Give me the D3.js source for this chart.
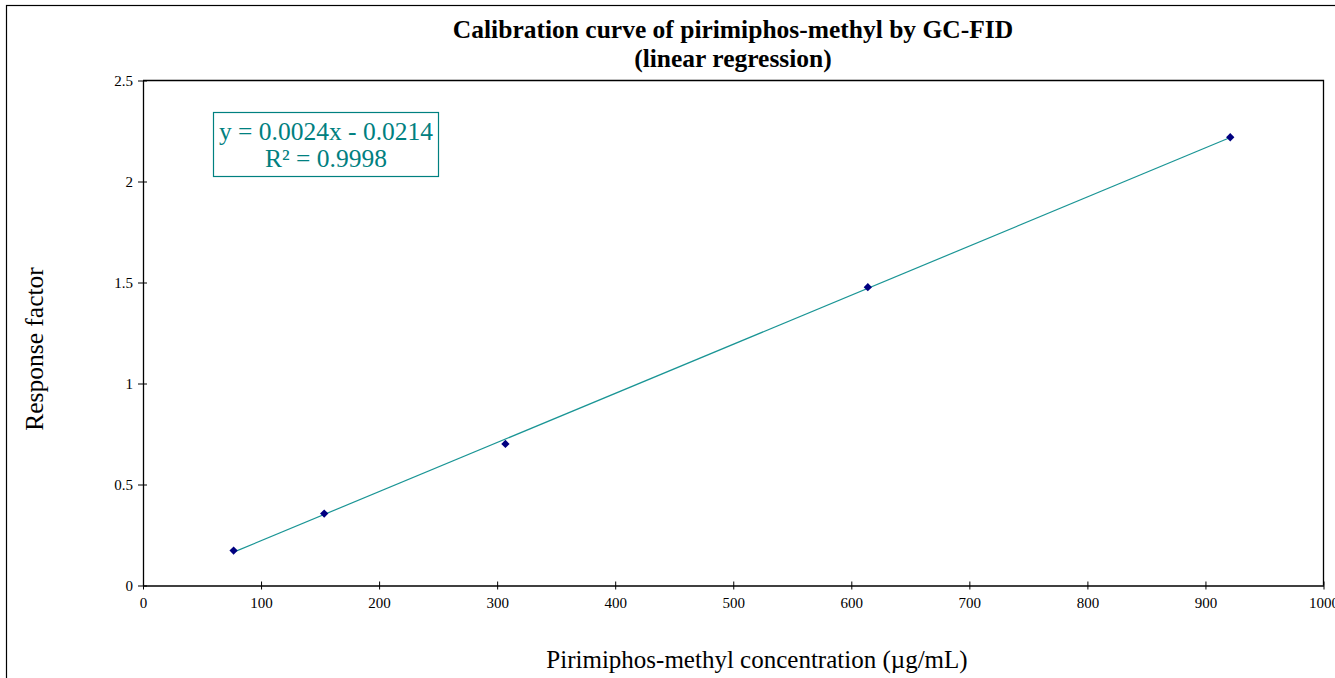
<!DOCTYPE html>
<html>
<head>
<meta charset="utf-8">
<script src="https://cdn.jsdelivr.net/npm/d3@7"></script>
<style>
  html, body { margin: 0; padding: 0; background: #fff; overflow: hidden; }
  svg { display: block; font-family: "Liberation Serif", "Times New Roman", serif; }
</style>
</head>
<body>
<svg id="chart" width="1335" height="678"></svg>
<script>
// Calibration standards: concentration (µg/mL) and measured response factor
const concentrations = [76.75, 153.5, 307, 614, 921];
const responses = [0.173, 0.356, 0.701, 1.477, 2.219];

// Linear regression coefficients of the calibration line
const slope = 0.002431;
const intercept = -0.0214;
const rSquared = 0.9998;

const xTicks = [0, 100, 200, 300, 400, 500, 600, 700, 800, 900, 1000];
const yTicks = [0, 0.5, 1, 1.5, 2, 2.5];

const svg = d3.select("#chart");
const W = 1335, H = 678;
const plot = { left: 143, top: 80.5, right: 1323.5, bottom: 585.5 };

// Outer chart border
svg.append("rect")
  .attr("x", 6.5).attr("y", 5.5)
  .attr("width", W).attr("height", H)
  .attr("fill", "none").attr("stroke", "#000").attr("stroke-width", 1.2);

const x = d3.scaleLinear().domain([0, 1000]).range([plot.left, plot.right]);
const y = d3.scaleLinear().domain([0, 2.5]).range([plot.bottom, plot.top]);

// Plot area frame (top and right)
svg.append("path")
  .attr("d", `M${plot.left},${plot.top}H${plot.right}V${plot.bottom}`)
  .attr("fill", "none").attr("stroke", "#000").attr("stroke-width", 1.3);

// Axes with ticks crossing the axis line
const xAxis = svg.append("g")
  .attr("transform", `translate(0,${plot.bottom})`)
  .call(d3.axisBottom(x).tickValues(xTicks).tickSize(0).tickPadding(12).tickFormat(d3.format("d")));
xAxis.selectAll(".tick").append("line")
  .attr("y1", -4).attr("y2", 4).attr("stroke", "#000");

const yAxis = svg.append("g")
  .attr("transform", `translate(${plot.left},0)`)
  .call(d3.axisLeft(y).tickValues(yTicks).tickSize(0).tickPadding(10).tickFormat(d => String(d)));
yAxis.selectAll(".tick").append("line")
  .attr("x1", -5).attr("x2", 4).attr("stroke", "#000");

[xAxis, yAxis].forEach(g => {
  g.select(".domain").attr("stroke", "#000").attr("stroke-width", 1.3);
  g.selectAll(".tick text")
    .attr("font-family", "Liberation Serif, Times New Roman, serif")
    .attr("font-size", 15).attr("fill", "#000");
});
xAxis.selectAll(".tick text").attr("dy", "0.71em");

// Regression line across the calibration range
const xExtent = d3.extent(concentrations);
const fitLine = d3.line().x(d => x(d)).y(d => y(slope * d + intercept));
svg.append("path")
  .datum(xExtent)
  .attr("d", fitLine)
  .attr("fill", "none").attr("stroke", "#1a9595").attr("stroke-width", 1.2);

// Calibration points as diamonds
const diamond = d3.symbol().type(d3.symbolDiamond2).size(44);
svg.append("g").selectAll("path")
  .data(concentrations.map((c, i) => [c, responses[i]]))
  .join("path")
  .attr("transform", d => `translate(${x(d[0])},${y(d[1])})`)
  .attr("d", diamond)
  .attr("fill", "#000080");

// Equation box
const fmt4 = d3.format(".4f");
const eqText = `y = ${fmt4(slope)}x ${intercept < 0 ? "-" : "+"} ${fmt4(Math.abs(intercept))}`;
const r2Text = `R² = ${fmt4(rSquared)}`;
const eq = svg.append("g");
eq.append("rect")
  .attr("x", 213.5).attr("y", 112.5).attr("width", 225).attr("height", 64)
  .attr("fill", "#fff").attr("stroke", "#008080").attr("stroke-width", 1.2);
eq.append("text").attr("x", 326).attr("y", 139.5)
  .attr("text-anchor", "middle").attr("font-size", 25.5).attr("fill", "#008080").text(eqText);
eq.append("text").attr("x", 326).attr("y", 167)
  .attr("text-anchor", "middle").attr("font-size", 25.5).attr("fill", "#008080").text(r2Text);

// Title
const title = svg.append("text").attr("text-anchor", "middle")
  .attr("font-size", 25.5).attr("font-weight", "bold").attr("fill", "#000");
title.append("tspan").attr("x", 733).attr("y", 38).text("Calibration curve of pirimiphos-methyl by GC-FID");
title.append("tspan").attr("x", 733).attr("y", 67).text("(linear regression)");

// Axis titles
svg.append("text")
  .attr("x", 757).attr("y", 668)
  .attr("text-anchor", "middle").attr("font-size", 25).attr("fill", "#000")
  .text("Pirimiphos-methyl concentration (µg/mL)");

svg.append("text")
  .attr("transform", "translate(43,349) rotate(-90)")
  .attr("text-anchor", "middle").attr("font-size", 25.5).attr("fill", "#000")
  .text("Response factor");
</script>
</body>
</html>
